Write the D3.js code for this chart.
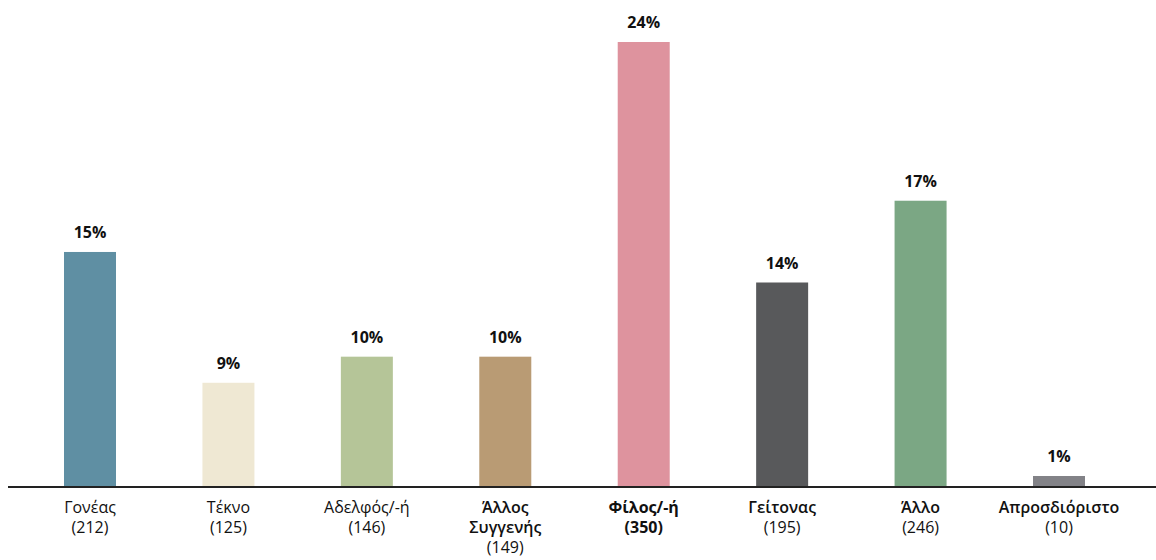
<!DOCTYPE html>
<html>
<head>
<meta charset="utf-8">
<script src="https://cdn.jsdelivr.net/npm/d3@7"></script>
<style>
  html, body { margin: 0; padding: 0; background: #fff; }
  svg { display: block; }
  text { font-family: "Open Sans", "Noto Sans", sans-serif; fill: #111; }
</style>
</head>
<body>
<svg id="chart" width="1156" height="560"></svg>
<script>
// ---- data ----
const categories = ["Γονέας", "Τέκνο", "Αδελφός/-ή", "Άλλος Συγγενής", "Φίλος/-ή", "Γείτονας", "Άλλο", "Απροσδιόριστο"];
const labelLines = [["Γονέας"], ["Τέκνο"], ["Αδελφός/-ή"], ["Άλλος", "Συγγενής"], ["Φίλος/-ή"], ["Γείτονας"], ["Άλλο"], ["Απροσδιόριστο"]];
const counts = [212, 125, 146, 149, 350, 195, 246, 10];
const percentLabels = ["15%", "9%", "10%", "10%", "24%", "14%", "17%", "1%"];
// bar lengths as drawn in the picture (percentage units, estimated)
const barLevel = [12.65, 5.58, 6.99, 6.99, 24, 11.0, 15.42, 0.54];
const colors = ["#5f8fa3", "#efe8d3", "#b5c598", "#b99b74", "#de939e", "#58595b", "#7ba784", "#828287"];
const nameWeight = [400, 400, 400, 600, 700, 600, 600, 600];
const countWeight = [400, 400, 400, 400, 700, 400, 400, 400];

// ---- layout ----
const svg = d3.select("#chart");
const baseY = 487;
const barW = 52;

const x = d3.scalePoint().domain(categories).range([90, 1059]);
const y = d3.scaleLinear().domain([0, 24]).range([baseY - 1, 42]);

const g = svg.append("g");

g.selectAll("rect.bar")
  .data(categories)
  .join("rect")
  .attr("class", "bar")
  .attr("x", d => x(d) - barW / 2)
  .attr("width", barW)
  .attr("y", (d, i) => y(barLevel[i]))
  .attr("height", (d, i) => y(0) - y(barLevel[i]))
  .attr("fill", (d, i) => colors[i]);

g.selectAll("text.pct")
  .data(categories)
  .join("text")
  .attr("class", "pct")
  .attr("x", d => x(d))
  .attr("y", (d, i) => y(barLevel[i]) - 14)
  .attr("text-anchor", "middle")
  .style("font-size", "16px")
  .style("font-weight", 700)
  .text((d, i) => percentLabels[i]);

// axis line
const xAxis = d3.axisBottom(x).tickSize(0).tickFormat("");
const axisG = svg.append("g").attr("transform", `translate(0,${baseY})`).call(xAxis);
axisG.select(".domain").remove();
svg.append("line")
  .attr("x1", 8).attr("x2", 1156)
  .attr("y1", baseY).attr("y2", baseY)
  .attr("stroke", "#222").attr("stroke-width", 2);

// category labels
const lab = svg.selectAll("g.lab")
  .data(categories)
  .join("g")
  .attr("class", "lab")
  .attr("transform", d => `translate(${x(d)},0)`);

lab.each(function (d, i) {
  const t = d3.select(this).append("text")
    .attr("text-anchor", "middle")
    .style("font-size", "16px");
  const lines = labelLines[i];
  lines.forEach((ln, j) => {
    t.append("tspan")
      .attr("x", 0)
      .attr("y", 513 + j * 20)
      .style("font-weight", nameWeight[i])
      .text(ln);
  });
  t.append("tspan")
    .attr("x", 0)
    .attr("y", 513 + lines.length * 20)
    .style("font-weight", countWeight[i])
    .text(`(${counts[i]})`);
});
</script>
</body>
</html>
